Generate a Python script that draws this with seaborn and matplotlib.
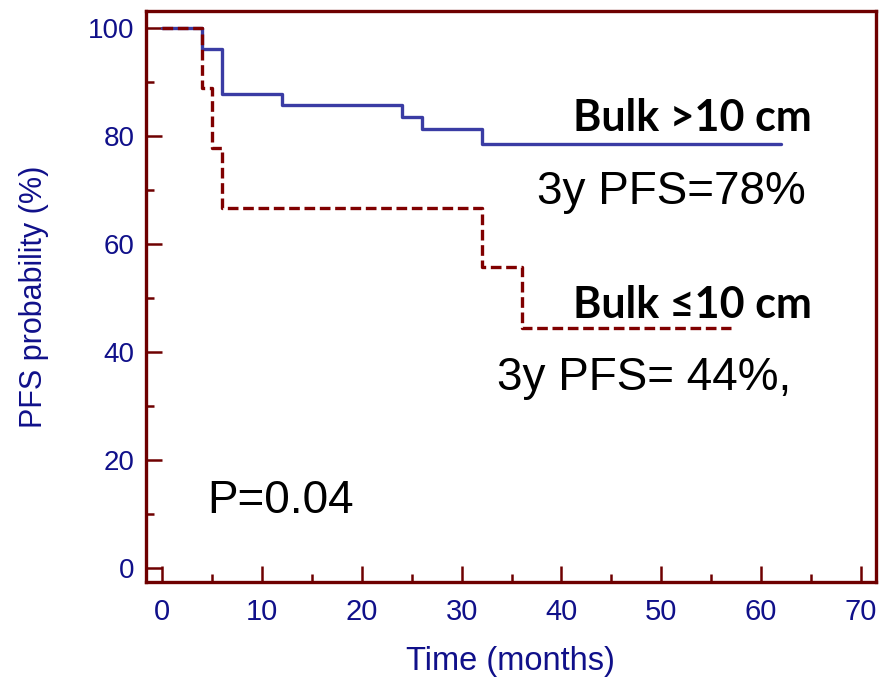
import seaborn as sns
import matplotlib.pyplot as plt
import pandas as pd
from matplotlib.ticker import MultipleLocator

# Kaplan-Meier steps
time_big = [0, 4, 6, 12, 24, 26, 32, 62]
pfs_big = [100, 96.0, 87.7, 85.6, 83.5, 81.2, 78.4, 78.4]
time_small = [0, 4, 5, 6, 32, 36, 57]
pfs_small = [100, 88.9, 77.8, 66.7, 55.6, 44.4, 44.4]

x_ticks = [0, 10, 20, 30, 40, 50, 60, 70]
y_ticks = [0, 20, 40, 60, 80, 100]

frame = "#6e0000"
navy = "#10108a"
blue = "#3a3ca4"
red = "#800000"

df_big = pd.DataFrame({"time": time_big, "pfs": pfs_big})
df_small = pd.DataFrame({"time": time_small, "pfs": pfs_small})

sns.set_style("white")
plt.rcParams["text.color"] = "black"
fig = plt.figure(figsize=(8.81, 6.82), dpi=100)
ax = fig.add_axes([0.1657, 0.1462, 0.8283, 0.8377])

sns.lineplot(data=df_big, x="time", y="pfs", ax=ax, color=blue, lw=2.4,
             drawstyle="steps-post", estimator=None)
sns.lineplot(data=df_small, x="time", y="pfs", ax=ax, color=red, lw=2.4,
             drawstyle="steps-post", estimator=None)
ax.lines[-1].set_dashes([3.2, 1.4])

ax.set_xlim(-1.64, 71.5)
ax.set_ylim(-2.7, 103.1)
ax.set_xticks(x_ticks)
ax.set_yticks(y_ticks)
ax.xaxis.set_minor_locator(MultipleLocator(5))
ax.yaxis.set_minor_locator(MultipleLocator(10))

for s in ["left", "right", "top", "bottom"]:
    ax.spines[s].set_color(frame)
    ax.spines[s].set_linewidth(2.4)
    ax.spines[s].set_visible(True)

ax.tick_params(which="both", direction="in", color=frame, width=1.8,
               top=False, right=False, left=True, bottom=True)
ax.tick_params(which="major", length=11.5)
ax.tick_params(which="minor", length=5.8)
ax.tick_params(axis="y", labelsize=20, labelcolor=navy, pad=8)
ax.tick_params(axis="x", labelsize=21, labelcolor=navy, pad=11)
for lab in ax.get_xticklabels() + ax.get_yticklabels():
    lab.set_family("Liberation Sans")

ax.set_xlabel("Time (months)", fontsize=23.5, color=navy,
              family="Liberation Sans", labelpad=15)
ax.set_ylabel("PFS probability (%)", fontsize=22, color=navy,
              family="Liberation Sans", labelpad=28)

bold = ["Lato", "DejaVu Sans"]
ax.text(65.1, 80.9, "Bulk >10 cm", fontsize=31, fontweight="bold",
        family=bold, ha="right", va="baseline", color="black")
ax.text(64.5, 67.3, "3y PFS=78%", fontsize=33, family="Liberation Sans",
        ha="right", va="baseline", color="black")
ax.text(65.1, 46.2, "Bulk \u226410 cm", fontsize=31, fontweight="bold",
        family=bold, ha="right", va="baseline", color="black")
ax.text(33.5, 32.9, "3y PFS= 44%,", fontsize=33, family="Liberation Sans",
        ha="left", va="baseline", color="black")
ax.text(4.5, 10.1, "P=0.04", fontsize=33, family="Liberation Sans",
        ha="left", va="baseline", color="black")

fig.savefig("out.png", dpi=100)
